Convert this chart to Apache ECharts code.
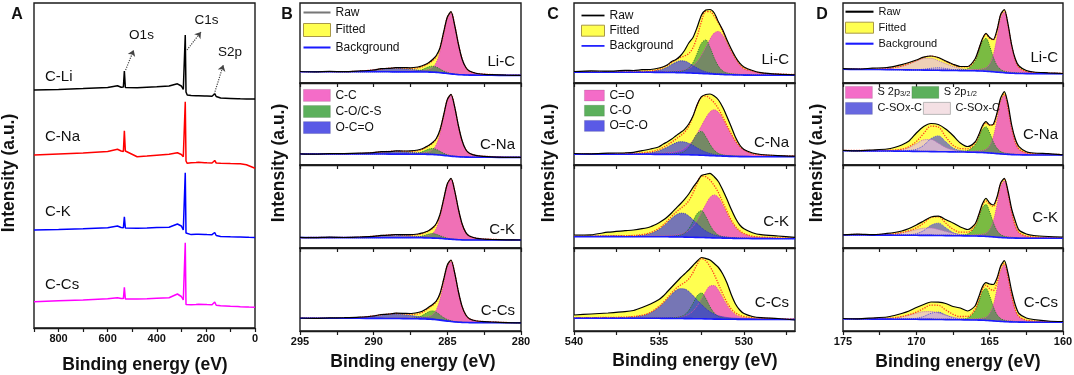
<!DOCTYPE html>
<html>
<head>
<meta charset="utf-8">
<script src="https://cdn.jsdelivr.net/npm/echarts@6/dist/echarts.min.js"></script>
<style>
html, body { margin: 0; padding: 0; background: #fff; }
#chart { width: 1074px; height: 375px; }
</style>
</head>
<body>
<div id="chart"></div>
<script>
var FONT = '"Liberation Sans", Arial, Helvetica, sans-serif';

// ---------- A: survey spectra (binding energy in eV, heights in a.u.) ----------
var eA = [900,800,700,600,560,545,536,532,528,520,480,440,400,350,316,300,292,287,284,281,276,260,240,230,226,222,205,200,196,175,168,164,158,140,100,70,64,60,35,29,25,0];
var surveyLi = [238,238.6,239.4,240.5,242.3,240.8,241,257,240.5,240,240.3,240.8,241.3,242,244.2,242,238.5,240,293,236,233,232.6,232.2,232.3,234,232.2,232,233.8,232,231.8,232.5,234.3,231.5,230,229.6,229.3,229.3,229.2,229.1,229.1,229,229];
var surveyNa = [173,174,175,176.5,178.7,177,176.5,197.3,177,176.3,171.3,172,172.8,173.8,175.3,173.5,171.3,173,226.3,167,164.7,165.2,165.5,165.7,167,165.6,165.3,166.5,165.2,165,165.5,167.5,165,164.8,164.5,164.3,165.7,164.2,163.3,164,162.3,159.7];
var surveyK = [98,98.5,99.2,100.3,102,100.5,100.3,111.3,100,99.7,99.8,100,100.5,100.8,104,102,98,100,155.3,95,93,93.4,93.7,93.8,95,93.7,93.5,94,93.4,93.3,93.5,95.5,92.5,91.5,91.2,91,91,91,90.8,90.8,90.7,90.5];
var surveyCs = [26.3,27.2,28,29.2,30.3,29.5,29.4,40.7,29,28.7,29,29.3,29.7,30.2,34,31.5,28,30,85.3,23.5,23,23.3,23.5,23.8,25,23.6,23.5,24,23.4,23.3,23.8,26,22.8,22.3,21.8,21.5,21.4,21.3,21,21,20.9,20.7];
var surveyNames = ['C-Li', 'C-Na', 'C-K', 'C-Cs'];
var ticksA = [0,100,200,300,400,500,600,700,800,900];
var labelsA = [0,200,400,600,800];

// ---------- B: C 1s (rows: Li-C, C-Na, C-K, C-Cs) ----------
var eB = [295,294,293,292,291,290,289.5,289,288.5,288,287.5,287,286.75,286.5,286.25,286,285.75,285.5,285.25,285,284.75,284.5,284.25,284,283.75,283.5,283,282.5,282,281,280];
var bgB = [
  [11.3,11.3,11.3,11.2,11.2,11.2,11.2,11.2,11.1,11.1,11.1,11.1,11,11,10.9,10.8,10.6,10.3,9.9,9.5,9.1,8.7,8.4,8.2,8,7.9,7.8,7.7,7.7,7.6,7.6],
  [11,11,11,11,11,11,11,10.9,10.9,10.9,10.8,10.8,10.8,10.7,10.6,10.5,10.3,10,9.6,9.2,8.8,8.5,8.2,8,7.9,7.8,7.7,7.7,7.7,7.6,7.6],
  [10.4,10.4,10.4,10.4,10.3,10.3,10.3,10.3,10.3,10.3,10.2,10.2,10.2,10.1,10,9.9,9.8,9.6,9.3,9,8.7,8.5,8.3,8.1,8,8,8,8,8,8,8],
  [12.8,12.8,12.7,12.7,12.7,12.6,12.6,12.5,12.5,12.4,12.3,12.2,12.1,12,11.8,11.6,11.3,10.9,10.4,9.9,9.5,9.1,8.8,8.6,8.5,8.4,8.3,8.3,8.3,8.2,8.2]
];
var rawB = [
  [11.5,11.2,11.6,11.3,12,13,14.3,14.6,15.3,15.4,15.2,16,17,18.5,20.5,23.5,27.5,35,51,66,71.3,57.5,39,24,15.8,12,9.5,8.7,8.3,7.8,7.6],
  [11.2,10.9,11.3,11.4,11.8,12.3,13.4,13.3,14.1,14,14.2,15,16,17.8,19.8,22.5,26.5,35,50,65.5,70.7,58,39.5,24.5,15.5,11.8,9.3,8.6,8.2,7.7,7.6],
  [10.6,10.3,10.8,10.5,11,11.6,12.6,12.8,13.5,13.4,13.4,14,14.8,16,17.6,20.2,24.5,33.5,48.8,64.3,69.6,57.2,39,24.3,15.6,12,9.6,8.9,8.5,8.2,8],
  [13,12.7,13.1,13.3,13.8,15,16.5,16.8,17.8,17.7,17.5,18.5,19.5,21.5,24,26.5,30,37.5,51.5,66,71,58,39.5,24.6,16.2,12.3,10,9.3,9,8.4,8.2]
];
var ccB = [
  [0,0,0,0,0,0.2,0.2,0.3,0.4,0.5,0.7,1.1,1.3,1.8,2.7,4.8,9.9,20.9,37.8,54.9,61,48.8,30.5,15.7,7.3,3.7,1.6,1,0.7,0.3,0.2],
  [0,0,0,0,0,0.2,0.2,0.3,0.4,0.5,0.7,1.1,1.3,1.8,2.7,4.8,9.9,20.9,37.8,54.9,61,48.8,30.5,15.7,7.3,3.7,1.6,1,0.7,0.3,0.2],
  [0,0,0,0,0,0.2,0.2,0.3,0.4,0.5,0.7,1.1,1.3,1.8,2.6,4.7,9.8,20.6,37.2,54,60,48,30,15.5,7.2,3.6,1.6,1,0.7,0.3,0.2],
  [0,0,0,0,0,0.2,0.2,0.3,0.4,0.5,0.7,1.1,1.3,1.8,2.6,4.7,9.8,20.6,37.2,54,60,48,30,15.5,7.2,3.6,1.6,1,0.7,0.3,0.2]
];
var coB = [
  [0,0,0,0,0,0,0.1,0.1,0.1,0.2,0.3,1.1,2.1,3.7,5.3,6,5.3,3.7,2.1,1.1,0.5,0.3,0.2,0.2,0.1,0.1,0.1,0.1,0,0,0],
  [0,0,0,0,0,0,0.1,0.1,0.1,0.2,0.3,1.1,2.1,3.7,5.3,6,5.3,3.7,2.1,1.1,0.5,0.3,0.2,0.2,0.1,0.1,0.1,0.1,0,0,0],
  [0,0,0,0,0,0,0,0.1,0.1,0.1,0.2,0.8,1.6,2.7,3.9,4.5,3.9,2.7,1.6,0.8,0.4,0.2,0.2,0.1,0.1,0.1,0.1,0,0,0,0],
  [0,0,0,0,0,0.1,0.1,0.1,0.1,0.2,0.4,1.5,3,5.2,7.5,8.5,7.5,5.2,3,1.5,0.8,0.4,0.3,0.2,0.2,0.1,0.1,0.1,0.1,0,0]
];
var ocoB = [
  [0.1,0.1,0.1,0.2,0.6,1.8,2.5,3.2,3.5,3.2,2.5,1.8,1.4,1.1,0.8,0.6,0.5,0.4,0.3,0.2,0.2,0.1,0.1,0.1,0.1,0.1,0.1,0.1,0.1,0,0],
  [0,0.1,0.1,0.2,0.5,1.3,1.8,2.3,2.5,2.3,1.8,1.3,1,0.8,0.6,0.5,0.3,0.3,0.2,0.2,0.1,0.1,0.1,0.1,0.1,0.1,0.1,0,0,0,0],
  [0,0.1,0.1,0.2,0.5,1.3,1.8,2.3,2.5,2.3,1.8,1.3,1,0.8,0.6,0.5,0.3,0.3,0.2,0.2,0.1,0.1,0.1,0.1,0.1,0.1,0.1,0,0,0,0],
  [0.1,0.1,0.1,0.3,0.8,2.3,3.2,4.1,4.5,4.1,3.2,2.3,1.8,1.4,1.1,0.8,0.6,0.5,0.4,0.3,0.2,0.2,0.2,0.1,0.1,0.1,0.1,0.1,0.1,0,0]
];
var ticksB = [280,282.5,285,287.5,290,292.5,295];
var labelsB = [280,285,290,295];

// ---------- C: O 1s ----------
var eC = [540,539,538,537,536.5,536,535.5,535,534.75,534.5,534.25,534,533.75,533.5,533.25,533,532.75,532.5,532.25,532,531.75,531.5,531.25,531,530.75,530.5,530.25,530,529.5,529,528,527];
var bgC = [
  [10.8,10.8,10.8,10.7,10.7,10.7,10.7,10.6,10.6,10.5,10.5,10.4,10.3,10.2,10.1,9.9,9.7,9.5,9.3,9.1,8.9,8.7,8.5,8.3,8.2,8.1,8,7.9,7.8,7.8,7.7,7.7],
  [10.8,10.8,10.8,10.7,10.7,10.7,10.7,10.6,10.6,10.6,10.5,10.5,10.4,10.3,10.2,10.1,10,9.8,9.6,9.4,9.2,9,8.9,8.7,8.6,8.5,8.4,8.4,8.3,8.3,8.3,8.3],
  [11.4,11.4,11.4,11.3,11.3,11.3,11.3,11.2,11.2,11.2,11.1,11.1,11,10.9,10.8,10.7,10.6,10.5,10.4,10.2,10.1,10,9.9,9.8,9.7,9.6,9.5,9.5,9.4,9.4,9.3,9.3],
  [12.8,12.8,12.8,12.7,12.7,12.7,12.7,12.7,12.6,12.6,12.6,12.5,12.5,12.4,12.4,12.3,12.2,12.2,12.1,12,11.9,11.9,11.8,11.8,11.7,11.7,11.6,11.6,11.6,11.5,11.5,11.5]
];
var rawC = [
  [11.5,12.2,11.8,12.6,12.5,13.3,13.5,15,16.3,18.3,21.5,23.5,27,32.5,40,45.5,56,68,73,73.5,70,61,53,43,34,26,19.8,16,12.5,10.3,8.8,8.2],
  [11.5,11.2,11.8,12.2,12.6,14.3,16,18.3,21,23.3,26,29.3,32.3,35.7,41,49,60.5,68.3,70.5,71,69,65,57.7,48.3,38.3,27.7,20,15.5,12,10.5,9.4,8.8],
  [13,13.2,15.8,17.3,18,19.3,21.3,25.3,28,31.3,35.3,39.7,44,48.7,54,60.7,66.3,72.5,73.7,74.7,71.3,66.3,58,48.7,38.7,29.7,23,19.3,15.3,13.3,12,10.7],
  [16,17,18,19.3,20.5,23.5,27,31.5,35,39.5,44,48.5,53,57,61,65.5,70,73.5,72.5,71,67.5,63.5,57,48,36.5,27,21,17.5,14.5,13.3,12.5,11]
];
var cdoC = [
  [0.1,0.1,0.2,0.3,0.3,0.4,0.5,0.6,0.9,1,1.2,1.5,2.1,2.8,4.5,7.4,11.9,18.5,26.5,34.7,41.1,42.9,39.1,31.6,23,15.6,9.9,6,3.9,1.8,1.1,0.6],
  [0.2,0.2,0.3,0.4,0.5,0.6,0.8,1.1,1.2,1.6,2,2.8,4.1,6.3,9.7,14.7,21.6,29.4,37.3,43.7,46,43.7,37.3,29.4,21.6,14.7,9.7,6.3,2.8,1.6,0.8,0.5],
  [0.1,0.2,0.3,0.3,0.4,0.5,0.6,0.8,0.9,1.1,1.4,1.9,2.6,4.2,6.7,10.8,16.8,24.9,33.1,40.4,43,40.4,33.1,24.9,16.8,10.8,6.7,4.2,1.9,1.1,0.6,0.4],
  [0.1,0.1,0.2,0.2,0.3,0.3,0.4,0.6,0.6,0.7,0.9,1.2,1.7,2.7,4.4,7.7,13,20.1,27.5,33,33.5,28.9,21.5,14.3,8.5,4.9,2.9,1.8,1,0.7,0.4,0.2]
];
var csoC = [
  [0.1,0.1,0.1,0.1,0.1,0.2,0.2,0.3,0.4,0.5,0.7,0.9,1.3,2.4,4.9,10.5,20.1,30.3,33.8,26.5,16,8,3.5,1.8,1.1,0.8,0.6,0.5,0.4,0.3,0.2,0.1],
  [0,0,0.1,0.1,0.1,0.2,0.2,0.3,0.4,0.5,0.6,0.9,1.7,3.4,7.4,14.2,21.4,23.8,18.7,11.3,5.6,2.5,1.3,0.8,0.6,0.5,0.4,0.3,0.2,0.2,0.1,0.1],
  [0.1,0.1,0.1,0.1,0.1,0.2,0.2,0.4,0.4,0.5,0.7,1,1.9,3.9,8.4,15.9,24,26.8,21.1,12.7,6.3,2.8,1.4,0.9,0.6,0.5,0.4,0.3,0.2,0.2,0.1,0.1],
  [0.1,0.1,0.1,0.1,0.1,0.2,0.2,0.3,0.4,0.5,0.7,1,1.8,3.7,8.1,15.3,23.1,25.8,20.3,12.2,6.1,2.7,1.4,0.8,0.6,0.5,0.4,0.3,0.2,0.2,0.1,0.1]
];
var ocoC = [
  [0.1,0.1,0.1,0.2,0.3,0.4,0.7,2.2,3.5,5.5,8,10.3,11.9,11.7,10,7.4,5.2,3.2,1.9,1.1,0.7,0.5,0.4,0.3,0.3,0.2,0.2,0.2,0.1,0.1,0.1,0.1],
  [0.1,0.1,0.2,0.3,0.4,0.7,1.5,3.5,5.3,7.4,9.8,11.7,12.9,12.7,11.4,9.5,7,4.9,3.3,2.1,1.4,0.9,0.7,0.5,0.4,0.3,0.3,0.2,0.2,0.2,0.1,0.1],
  [0.2,0.2,0.4,0.6,0.8,1.4,3.2,7.3,10.6,14.4,18.4,21.8,23.8,23.6,21.2,17.6,13.6,9.8,6.7,4.6,3,2,1.4,1.1,0.8,0.7,0.6,0.5,0.4,0.3,0.2,0.2],
  [0.3,0.4,0.5,0.9,1.4,2.6,5.4,11.1,15,19.5,24,27.9,29.8,29.6,27.2,23.1,18.6,14.3,10.4,7.2,5,3.3,2.4,1.7,1.4,1.1,0.9,0.8,0.6,0.5,0.3,0.2]
];
var ticksC = [527.5,530,532.5,535,537.5,540];
var labelsC = [530,535,540];

// ---------- D: S 2p ----------
var eD = [175,174,173,172,171.5,171,170.5,170,169.5,169,168.5,168,167.5,167,166.5,166,165.75,165.5,165.25,165,164.75,164.5,164.25,164,163.75,163.5,163.25,163,162.5,162,161,160];
var bgD = [
  [13.7,13.6,13.5,13.4,13.3,13.2,13.1,13,12.9,12.8,12.7,12.6,12.5,12.4,12.3,12.2,12.1,12,11.8,11.5,11.2,10.9,10.6,10.3,10,9.8,9.6,9.5,9.4,9.3,9.3,9.2],
  [14.3,14.2,14.1,14,13.9,13.8,13.7,13.6,13.5,13.4,13.3,13.2,13.1,13,12.9,12.7,12.6,12.5,12.3,12,11.7,11.4,11.1,10.8,10.6,10.4,10.3,10.2,10.1,10,10,10],
  [13,13,12.9,12.9,12.8,12.8,12.7,12.7,12.6,12.6,12.5,12.4,12.3,12.2,12.1,12,11.9,11.8,11.6,11.4,11.1,10.8,10.5,10.3,10.1,10,9.9,9.8,9.8,9.7,9.7,9.7],
  [12,12,11.9,11.9,11.8,11.8,11.7,11.7,11.6,11.6,11.5,11.4,11.3,11.2,11.1,11,10.9,10.8,10.6,10.4,10.1,9.8,9.6,9.4,9.2,9.1,9,8.9,8.8,8.8,8.7,8.7]
];
var rawD = [
  [14.3,14,14.8,15.5,16.7,18.3,20.5,23,25.8,27,25.5,22,18.8,16.5,16.5,24,33.5,44,49.7,45.5,43.5,53,68.5,73.5,59,38,24,17,12.5,11,10.2,9.5],
  [14.7,14.2,15,16,17.5,20,24,32,38.5,41.5,40.5,36,29.5,22,18.5,23,30,39,43.3,40,40.8,52,67,73.3,61,40,26,18.3,13.3,12,11.3,10.2],
  [13.2,13.8,13.3,14.6,15.5,17,19.5,23,27,31,31.8,28.5,25,21,18.5,24,33,44,49.7,45,43,51,65,69.7,57,39,27,18,14,12.5,11.5,11],
  [12.5,12.2,13,14,15.5,17.5,20,23.5,26.5,29,28.8,27.5,24.5,23,20,25,34,44,48.3,47,46.5,53,65,70.3,58,40,26,17.5,13,11.5,10,9.5]
];
var s32D = [
  [0.1,0.1,0.1,0.1,0.1,0.1,0.1,0.1,0.2,0.2,0.2,0.3,0.4,0.5,0.7,1.2,1.5,2.1,3.5,7.6,17.1,34.5,54,60.6,46.7,26.8,12.4,5.5,1.8,1,0.5,0.3],
  [0.1,0.1,0.1,0.1,0.1,0.1,0.1,0.1,0.2,0.2,0.2,0.3,0.4,0.5,0.7,1.1,1.5,2.1,3.4,7.4,16.6,33.4,52.2,58.6,45.2,26,12,5.3,1.7,1,0.5,0.3],
  [0.1,0.1,0.1,0.1,0.1,0.1,0.1,0.1,0.2,0.2,0.2,0.3,0.4,0.5,0.7,1.1,1.4,2,3.2,7.1,16,32.3,50.4,56.6,43.7,25.1,11.6,5.1,1.7,1,0.5,0.3],
  [0.1,0.1,0.1,0.1,0.1,0.1,0.1,0.1,0.2,0.2,0.2,0.3,0.4,0.5,0.7,1.1,1.4,2,3.2,7.1,16,32.3,50.4,56.6,43.7,25.1,11.6,5.1,1.7,1,0.5,0.3]
];
var s12D = [
  [0.1,0.1,0.1,0.1,0.1,0.1,0.1,0.1,0.1,0.2,0.2,0.3,0.5,0.8,1.9,9.3,18.7,29.2,32.8,25.3,14.5,6.7,3,1.5,1,0.7,0.6,0.5,0.3,0.2,0.1,0.1],
  [0,0,0,0,0,0,0,0.1,0.1,0.1,0.2,0.3,0.4,0.7,1.5,7.3,14.7,23,25.8,19.9,11.4,5.3,2.3,1.2,0.8,0.5,0.4,0.4,0.2,0.2,0.1,0.1],
  [0.1,0.1,0.1,0.1,0.1,0.1,0.1,0.1,0.1,0.2,0.2,0.3,0.5,0.8,1.8,9,18.1,28.3,31.8,24.5,14.1,6.5,2.9,1.4,0.9,0.7,0.5,0.4,0.3,0.2,0.1,0.1],
  [0.1,0.1,0.1,0.1,0.1,0.1,0.1,0.1,0.1,0.2,0.2,0.3,0.5,0.8,1.8,9,18.1,28.3,31.8,24.5,14.1,6.5,2.9,1.4,0.9,0.7,0.5,0.4,0.3,0.2,0.1,0.1]
];
var soxBlueD = [
  [0,0,0,0,0.1,0.1,0.1,0.3,0.9,1.9,2.5,1.9,0.9,0.3,0.1,0.1,0.1,0,0,0,0,0,0,0,0,0,0,0,0,0,0,0],
  [0.1,0.1,0.1,0.2,0.3,0.4,0.8,2.1,6.1,13,15.8,10.1,4,1.4,0.6,0.4,0.3,0.3,0.2,0.2,0.2,0.2,0.1,0.1,0.1,0.1,0.1,0.1,0.1,0.1,0.1,0],
  [0.1,0.1,0.1,0.2,0.2,0.3,0.6,1.6,4.8,10.1,12.3,7.9,3.1,1.1,0.5,0.3,0.2,0.2,0.2,0.2,0.1,0.1,0.1,0.1,0.1,0.1,0.1,0.1,0.1,0.1,0,0],
  [0,0,0.1,0.1,0.1,0.2,0.4,1,2.9,6.1,7.4,4.7,1.9,0.6,0.3,0.2,0.1,0.1,0.1,0.1,0.1,0.1,0.1,0.1,0.1,0.1,0.1,0.1,0,0,0,0]
];
var soxPinkD = [
  [0.2,0.2,0.4,1,1.9,3.5,6,9,11.5,11.8,9.6,6.6,4,2.1,1.1,0.7,0.5,0.4,0.4,0.3,0.3,0.3,0.2,0.2,0.2,0.2,0.2,0.2,0.1,0.1,0.1,0.1],
  [0.1,0.1,0.2,0.4,0.7,1.5,3.7,7.6,11.6,12.1,8.4,4.3,1.9,0.8,0.5,0.3,0.3,0.2,0.2,0.2,0.2,0.2,0.1,0.1,0.1,0.1,0.1,0.1,0.1,0.1,0.1,0],
  [0.1,0.2,0.2,0.6,1.2,2.2,3.8,5.6,7.2,7.4,6,4.1,2.5,1.3,0.7,0.4,0.3,0.3,0.2,0.2,0.2,0.2,0.2,0.1,0.1,0.1,0.1,0.1,0.1,0.1,0.1,0.1],
  [0.1,0.2,0.3,0.6,1.2,2.3,4,6,7.7,7.8,6.4,4.4,2.6,1.4,0.7,0.4,0.4,0.3,0.2,0.2,0.2,0.2,0.2,0.1,0.1,0.1,0.1,0.1,0.1,0.1,0.1,0.1]
];
var ticksD = [160,162.5,165,167.5,170,172.5,175];
var labelsD = [160,165,170,175];

var sampleNames = ['Li-C', 'C-Na', 'C-K', 'C-Cs'];

// ---------- build ----------
var grids = [], xAxes = [], yAxes = [], series = [], legends = [], graphics = [];
var subTops = [3, 83, 165, 248];
var subHeights = [80, 82, 83, 83];

function pairs(xs, ys) {
  return xs.map(function (x, i) { return [x, ys[i]]; });
}
// value first, energy second: the stacked dimension must be the intensity
function vePairs(xs, ys) {
  return xs.map(function (x, i) { return [ys[i], x]; });
}

function addFrame(left, top, width, height, xmin, xmax, ticks, labels, showLabels) {
  grids.push({
    left: left, top: top, width: width, height: height, show: true,
    borderColor: '#1a1a1a', borderWidth: 1.4, backgroundColor: 'rgba(0,0,0,0)',
    containLabel: false, outerBoundsMode: 'none'
  });
  var gi = grids.length - 1;
  xAxes.push({
    gridIndex: gi, type: 'value', min: xmin, max: xmax, inverse: true,
    axisLine: { show: true, onZero: false, lineStyle: { color: '#1a1a1a', width: 1.4 } },
    axisTick: { show: true, length: 4, lineStyle: { color: '#1a1a1a', width: 1.2 }, customValues: ticks },
    axisLabel: { show: showLabels, customValues: labels, color: '#111', fontSize: 11, fontWeight: 'bold', margin: 5, fontFamily: FONT },
    splitLine: { show: false }
  });
  yAxes.push({ gridIndex: gi, type: 'value', min: 0, max: height, show: false, splitLine: { show: false } });
  return gi;
}

function txt(x, y, s, size, weight, align, rot) {
  graphics.push({
    type: 'text', x: x, y: y, rotation: rot || 0, silent: true, z: 100,
    style: { text: s, fill: '#111', fontSize: size, fontWeight: weight || 'normal', fontFamily: FONT,
             align: align || 'center', verticalAlign: 'middle' }
  });
}

// panel A
var gA = addFrame(34, 3, 221, 325, 0, 900, ticksA, labelsA, true);
[surveyLi, surveyNa, surveyK, surveyCs].forEach(function (d, k) {
  var s = {
    type: 'line', name: surveyNames[k], xAxisIndex: gA, yAxisIndex: gA, data: pairs(eA, d),
    symbol: 'none', silent: true,
    lineStyle: { color: ['#000000', '#ff0000', '#0000ff', '#ff00ff'][k], width: 1.5 }
  };
  if (k === 0) {
    s.markLine = {
      silent: true, symbol: ['none', 'arrow'], symbolSize: 6, animation: false,
      label: { show: false },
      lineStyle: { type: 'dotted', color: '#444', width: 1.2 },
      data: [
        [{ coord: [527, 258] }, { coord: [494, 278] }],
        [{ coord: [277, 278] }, { coord: [220, 296] }],
        [{ coord: [166, 234] }, { coord: [129, 263] }]
      ]
    };
  }
  series.push(s);
});
txt(45, 77, 'C-Li', 15, 'normal', 'left');
txt(45, 137, 'C-Na', 15, 'normal', 'left');
txt(45, 212, 'C-K', 15, 'normal', 'left');
txt(45, 285, 'C-Cs', 15, 'normal', 'left');
txt(141.5, 35, 'O1s', 13.5);
txt(206.5, 20, 'C1s', 13.5);
txt(230, 52, 'S2p', 13.5);

function addFitPanel(key, left, width, xmin, xmax, ticks, labels, e, bg, raw, comps, labelX, labelYs) {
  for (var s = 0; s < 4; s++) {
    var gi = addFrame(left, subTops[s], width, subHeights[s], xmin, xmax, ticks, labels, s === 3);
    var common = { type: 'line', xAxisIndex: gi, yAxisIndex: gi, encode: { x: 1, y: 0 },
                   symbol: 'none', smooth: 0.35, silent: true, stackStrategy: 'all' };
    var bgRow = bg[s];
    var env = raw[s].map(function (v, i) { return v - bgRow[i]; });
    series.push(Object.assign({}, common, { name: '_base', stack: key + s + 'f', data: vePairs(e, bgRow), lineStyle: { opacity: 0 }, z: 2 }));
    series.push(Object.assign({}, common, { name: 'Fitted', stack: key + s + 'f', data: vePairs(e, env),
      lineStyle: { opacity: 0 }, areaStyle: { color: '#ffff50', opacity: 1 }, itemStyle: { color: '#ffff50' }, z: 2 }));
    comps.forEach(function (c, k) {
      series.push(Object.assign({}, common, { name: '_base', stack: key + s + 'c' + k, data: vePairs(e, bgRow), lineStyle: { opacity: 0 }, z: 3 }));
      series.push(Object.assign({}, common, { name: c.name, stack: key + s + 'c' + k, data: vePairs(e, c.data[s]),
        lineStyle: { color: c.line, width: 1, type: 'dotted' },
        areaStyle: { color: c.fill, opacity: c.op }, itemStyle: { color: c.fill }, z: 3 }));
    });
    var fit = bgRow.map(function (v, i) {
      var t = v;
      comps.forEach(function (c) { t += c.data[s][i]; });
      return t;
    });
    series.push(Object.assign({}, common, { name: 'Fit curve', data: vePairs(e, fit), stack: null,
      lineStyle: { color: '#ff3c1e', width: 1.3, type: 'dotted' }, z: 4 }));
    series.push(Object.assign({}, common, { name: 'Background', data: vePairs(e, bgRow), stack: null, smooth: 0.2,
      lineStyle: { color: '#1a1aff', width: 1.6 }, itemStyle: { color: '#1a1aff' }, z: 5 }));
    series.push(Object.assign({}, common, { name: 'Raw', data: vePairs(e, raw[s]), stack: null, smooth: 0.25,
      lineStyle: { color: '#000', width: 1.2 }, itemStyle: { color: '#000' }, z: 6 }));
    txt(labelX, labelYs[s], sampleNames[s], 15, 'normal', 'right');
  }
}

var PINK = '#ee5cc4', GREEN = '#32963a', BLUE = '#3c3ce0', LPINK = '#e8c0d8';

addFitPanel('B', 300, 221, 280, 295, ticksB, labelsB, eB, bgB, rawB, [
  { name: 'C-C', data: ccB, fill: PINK, op: 0.88, line: '#e04aa8' },
  { name: 'C-O/C-S', data: coB, fill: GREEN, op: 0.65, line: '#2a7a2a' },
  { name: 'O-C=O', data: ocoB, fill: BLUE, op: 0.7, line: '#3030c0' }
], 515, [62, 145, 230, 311]);

addFitPanel('C', 574, 221, 527, 540, ticksC, labelsC, eC, bgC, rawC, [
  { name: 'C=O', data: cdoC, fill: PINK, op: 0.88, line: '#e04aa8' },
  { name: 'C-O', data: csoC, fill: GREEN, op: 0.65, line: '#2a7a2a' },
  { name: 'O=C-O', data: ocoC, fill: BLUE, op: 0.7, line: '#3030c0' }
], 789, [60, 143, 222, 303]);

addFitPanel('D', 843, 220, 160, 175, ticksD, labelsD, eD, bgD, rawD, [
  { name: 'S 2p3/2', data: s32D, fill: PINK, op: 0.88, line: '#e04aa8' },
  { name: 'S 2p1/2', data: s12D, fill: GREEN, op: 0.65, line: '#2a7a2a' },
  { name: 'C-SOx-C', data: soxBlueD, fill: BLUE, op: 0.6, line: '#5050e0' },
  { name: 'C-SOx-C ', data: soxPinkD, fill: LPINK, op: 0.75, line: '#c070c0' }
], 1058, [58, 135, 218, 303]);

// ---------- legends ----------
var LINE_ICON = 'path://M0,0H40V3H0Z';
function topLegend(left, top, w, h, gap, size, rawColor) {
  legends.push({
    left: left, top: top, orient: 'vertical', padding: 0, itemWidth: w, itemHeight: h, itemGap: gap,
    selectedMode: false, textStyle: { fontSize: size, color: '#111', fontFamily: FONT },
    data: [
      { name: 'Raw', icon: LINE_ICON, itemStyle: { color: rawColor } },
      { name: 'Fitted', icon: 'rect', itemStyle: { color: '#ffff50', borderColor: '#a89848', borderWidth: 1 } },
      { name: 'Background', icon: LINE_ICON, itemStyle: { color: '#1a1aff' } }
    ]
  });
}
topLegend(303, 6.5, 27, 13, 4.5, 12, '#777');
topLegend(581, 9.5, 23, 11, 3.2, 12, '#000');
topLegend(845, 6.2, 28, 11, 4.5, 11, '#000');

function compLegend(left, top, w, h, gap, size, names, colors, orient) {
  legends.push({
    left: left, top: top, orient: orient || 'vertical', padding: 0, itemWidth: w, itemHeight: h, itemGap: gap,
    selectedMode: false,
    textStyle: { fontSize: size, color: '#111', fontFamily: FONT,
      rich: { t: { fontSize: size, fontFamily: FONT, verticalAlign: 'bottom' },
              s: { fontSize: 7.5, fontFamily: FONT, verticalAlign: 'bottom' } } },
    formatter: function (name) {
      if (name === 'S 2p3/2') return '{t|S 2p}{s|3/2}';
      if (name === 'S 2p1/2') return '{t|S 2p}{s|1/2}';
      return '{t|' + name + '}';
    },
    data: names.map(function (n, i) {
      return { name: n, icon: 'rect', itemStyle: { color: colors[i], borderColor: colors[i] === '#f4e0e4' ? '#aaa' : 'rgba(0,0,0,0.15)', borderWidth: 0.8 } };
    })
  });
}
compLegend(303, 89, 27, 12, 3.3, 12, ['C-C', 'C-O/C-S', 'O-C=O'], ['#f46cc8', '#5cb05c', '#5a5ae6']);
compLegend(584, 89.5, 20, 11, 3.2, 12, ['C=O', 'C-O', 'O=C-O'], ['#f46cc8', '#5cb05c', '#5a5ae6']);
compLegend(845, 86, 27, 12, 1, 11, ['S 2p3/2', 'S 2p1/2'], ['#f46cc8', '#5cb05c'], 'horizontal');
compLegend(845, 102, 27, 12, 1, 11, ['C-SOx-C', 'C-SOx-C '], ['#6868e0', '#f4e0e4'], 'horizontal');

// ---------- titles ----------
txt(17, 15, 'A', 16, 'bold');
txt(287, 15, 'B', 16, 'bold');
txt(553, 15, 'C', 16, 'bold');
txt(822, 15, 'D', 16, 'bold');
txt(9, 173, 'Intensity (a.u.)', 17.5, 'bold', 'center', Math.PI / 2);
txt(279, 163, 'Intensity (a.u.)', 17.5, 'bold', 'center', Math.PI / 2);
txt(549, 163, 'Intensity (a.u.)', 17.5, 'bold', 'center', Math.PI / 2);
txt(817, 163, 'Intensity (a.u.)', 17.5, 'bold', 'center', Math.PI / 2);
txt(145, 365, 'Binding energy (eV)', 17.5, 'bold');
txt(413, 362, 'Binding energy (eV)', 17.5, 'bold');
txt(695, 361, 'Binding energy (eV)', 17.5, 'bold');
txt(958, 362, 'Binding energy (eV)', 17.5, 'bold');

var chart = echarts.init(document.getElementById('chart'));
chart.setOption({
  animation: false,
  backgroundColor: '#fff',
  textStyle: { fontFamily: FONT },
  grid: grids,
  xAxis: xAxes,
  yAxis: yAxes,
  legend: legends,
  series: series,
  graphic: { elements: graphics }
});
</script>
</body>
</html>
